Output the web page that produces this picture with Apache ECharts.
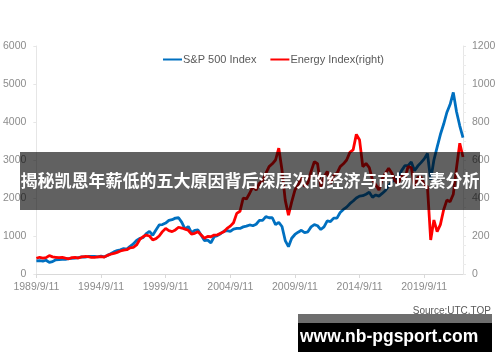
<!DOCTYPE html>
<html>
<head>
<meta charset="utf-8">
<script src="https://cdn.jsdelivr.net/npm/echarts@6/dist/echarts.min.js"></script>
<style>
html,body{margin:0;padding:0;background:#fff;}
#chart{width:500px;height:362px;}
</style>
</head>
<body>
<div id="chart"></div>
<script>
// Quarterly observation dates (categories)
const dates = [
  '1989/9/11','1989/12/11',
  '1990/3/11','1990/6/11','1990/9/11','1990/12/11',
  '1991/3/11','1991/6/11','1991/9/11','1991/12/11',
  '1992/3/11','1992/6/11','1992/9/11','1992/12/11',
  '1993/3/11','1993/6/11','1993/9/11','1993/12/11',
  '1994/3/11','1994/6/11','1994/9/11','1994/12/11',
  '1995/3/11','1995/6/11','1995/9/11','1995/12/11',
  '1996/3/11','1996/6/11','1996/9/11','1996/12/11',
  '1997/3/11','1997/6/11','1997/9/11','1997/12/11',
  '1998/3/11','1998/6/11','1998/9/11','1998/12/11',
  '1999/3/11','1999/6/11','1999/9/11','1999/12/11',
  '2000/3/11','2000/6/11','2000/9/11','2000/12/11',
  '2001/3/11','2001/6/11','2001/9/11','2001/12/11',
  '2002/3/11','2002/6/11','2002/9/11','2002/12/11',
  '2003/3/11','2003/6/11','2003/9/11','2003/12/11',
  '2004/3/11','2004/6/11','2004/9/11','2004/12/11',
  '2005/3/11','2005/6/11','2005/9/11','2005/12/11',
  '2006/3/11','2006/6/11','2006/9/11','2006/12/11',
  '2007/3/11','2007/6/11','2007/9/11','2007/12/11',
  '2008/3/11','2008/6/11','2008/9/11','2008/12/11',
  '2009/3/11','2009/6/11','2009/9/11','2009/12/11',
  '2010/3/11','2010/6/11','2010/9/11','2010/12/11',
  '2011/3/11','2011/6/11','2011/9/11','2011/12/11',
  '2012/3/11','2012/6/11','2012/9/11','2012/12/11',
  '2013/3/11','2013/6/11','2013/9/11','2013/12/11',
  '2014/3/11','2014/6/11','2014/9/11','2014/12/11',
  '2015/3/11','2015/6/11','2015/9/11','2015/12/11',
  '2016/3/11','2016/6/11','2016/9/11','2016/12/11',
  '2017/3/11','2017/6/11','2017/9/11','2017/12/11',
  '2018/3/11','2018/6/11','2018/9/11','2018/12/11',
  '2019/3/11','2019/6/11','2019/9/11','2019/12/11',
  '2020/3/11','2020/6/11','2020/9/11','2020/12/11',
  '2021/3/11','2021/6/11','2021/9/11','2021/12/11',
  '2022/3/11','2022/6/11','2022/9/11'
];

// S&P 500 Index (left axis)
const sp500 = [
  345, 350,
  338, 362, 305, 326,
  375, 378, 385, 385,
  405, 410, 418, 434,
  450, 447, 460, 464,
  466, 448, 470, 450,
  490, 532, 582, 618,
  637, 670, 655, 728,
  790, 882, 935, 955,
  1060, 1120, 1020, 1160,
  1290, 1300, 1340, 1410,
  1430, 1470, 1480, 1360,
  1180, 1250, 1090, 1150,
  1160, 1020, 880, 890,
  820, 980, 1010, 1060,
  1125, 1140, 1120, 1180,
  1200, 1200, 1240, 1260,
  1290, 1270, 1310, 1410,
  1410, 1510, 1480, 1480,
  1300, 1360, 1250, 880,
  720, 940, 1040, 1100,
  1150, 1090, 1110, 1240,
  1300, 1270, 1170, 1240,
  1400, 1380, 1470, 1470,
  1620, 1700, 1760, 1850,
  1920, 2000, 2050, 2060,
  2100, 2150, 2020, 2080,
  2050, 2120, 2200, 2320,
  2430, 2490, 2560, 2720,
  2850, 2850, 2950, 2720,
  2840, 2930, 3030, 3170,
  2480, 3000, 3340, 3670,
  3940, 4250, 4460, 4780,
  4270, 3900, 3590
];

// Energy Index (right axis)
const energy = [
  83, 88,
  84, 86, 97, 90,
  88, 86, 87, 83,
  80, 86, 87, 84,
  90, 92, 91, 88,
  87, 90, 91, 89,
  98, 104, 108, 114,
  121, 126, 128, 138,
  140, 153, 182, 196,
  205, 200, 179, 186,
  200, 223, 240, 228,
  223, 232, 246, 242,
  236, 230, 210, 214,
  222, 205, 188, 198,
  196, 205, 206, 214,
  222, 240, 252, 270,
  319, 330, 400, 395,
  425, 460, 442, 477,
  490, 530, 565, 580,
  600, 662, 547, 389,
  310, 380, 442, 470,
  512, 460, 480, 540,
  591, 580, 460, 510,
  540, 477, 520, 530,
  565, 580, 600, 640,
  653, 735, 705, 565,
  582, 560, 495, 470,
  442, 500, 530, 556,
  530, 490, 477, 520,
  500, 565, 560, 460,
  510, 512, 470, 460,
  179, 284, 223, 260,
  337, 389, 380, 420,
  560, 688, 616
];

const seriesNames = ['S&P 500 Index', 'Energy Index(right)'];
const titleText = '揭秘凯恩年薪低的五大原因背后深层次的经济与市场因素分析';
const sourceText = 'Source:UTC.TOP';
const siteText = 'www.nb-pgsport.com';

const chart = echarts.init(document.getElementById('chart'), null, {renderer: 'canvas'});
const axisFont = {color: '#8c8c8c', fontSize: 10.5, fontFamily: 'Liberation Sans'};
const plain = function (v) { return String(v); };
chart.setOption({
  animation: false,
  backgroundColor: '#ffffff',
  grid: {left: 36, right: 37, top: 46, bottom: 88},
  legend: {
    data: seriesNames,
    top: 49, left: 158,
    icon: 'rect', itemWidth: 19, itemHeight: 2, itemGap: 14,
    textStyle: {color: '#595959', fontSize: 11, fontFamily: 'Liberation Sans', padding: [0, 0, 0, -4]}
  },
  xAxis: {
    type: 'category',
    data: dates,
    boundaryGap: false,
    axisLine: {lineStyle: {color: '#d9d9d9'}},
    axisTick: {interval: 19, length: 4, lineStyle: {color: '#d9d9d9'}},
    axisLabel: Object.assign({interval: 19, margin: 8}, axisFont),
    splitLine: {show: false}
  },
  yAxis: [
    {
      type: 'value', min: 0, max: 6000, interval: 1000,
      axisLine: {show: true, lineStyle: {color: '#e6e6e6'}},
      axisTick: {show: true, length: 3, lineStyle: {color: '#e6e6e6'}},
      axisLabel: Object.assign({margin: 10, formatter: plain}, axisFont),
      splitLine: {show: false}
    },
    {
      type: 'value', min: 0, max: 1200, interval: 200,
      axisLine: {show: true, lineStyle: {color: '#e6e6e6'}},
      axisTick: {show: true, length: 3, lineStyle: {color: '#e6e6e6'}},
      minorTick: {show: true, splitNumber: 4, length: 3, lineStyle: {color: '#ececec'}},
      axisLabel: Object.assign({margin: 9, formatter: plain}, axisFont),
      splitLine: {show: false}
    }
  ],
  series: [
    {
      name: seriesNames[0], type: 'line', yAxisIndex: 0, data: sp500,
      showSymbol: false, symbol: 'none',
      lineStyle: {color: '#0070C0', width: 2.8},
      itemStyle: {color: '#0070C0'},
      z: 2
    },
    {
      name: seriesNames[1], type: 'line', yAxisIndex: 1, data: energy,
      showSymbol: false, symbol: 'none',
      lineStyle: {color: '#FF0000', width: 2.8},
      itemStyle: {color: '#FF0000'},
      z: 3
    }
  ],
  graphic: [
    {
      type: 'rect', z: 100, silent: true,
      shape: {x: 20, y: 152, width: 460, height: 58},
      style: {fill: 'rgba(0,0,0,0.62)'}
    },
    {
      type: 'text', z: 101, silent: true,
      x: 250, y: 181,
      style: {
        text: titleText, fill: '#ffffff',
        font: 'bold 17px "Noto Sans CJK SC"',
        textAlign: 'center', textVerticalAlign: 'middle'
      }
    },
    {
      type: 'text', z: 100, silent: true,
      x: 491, y: 311,
      style: {
        text: sourceText, fill: '#595959',
        font: '10px "Liberation Sans"',
        textAlign: 'right', textVerticalAlign: 'middle'
      }
    },
    {
      type: 'rect', z: 101, silent: true,
      shape: {x: 298, y: 314, width: 194, height: 9},
      style: {fill: '#6e6e6e'}
    },
    {
      type: 'rect', z: 101, silent: true,
      shape: {x: 298, y: 323, width: 194, height: 29},
      style: {fill: '#000000'}
    },
    {
      type: 'text', z: 102, silent: true,
      x: 300, y: 337,
      style: {
        text: siteText, fill: '#ffffff',
        font: 'bold 17.5px "Liberation Sans"',
        textAlign: 'left', textVerticalAlign: 'middle'
      }
    }
  ]
});
</script>
</body>
</html>
